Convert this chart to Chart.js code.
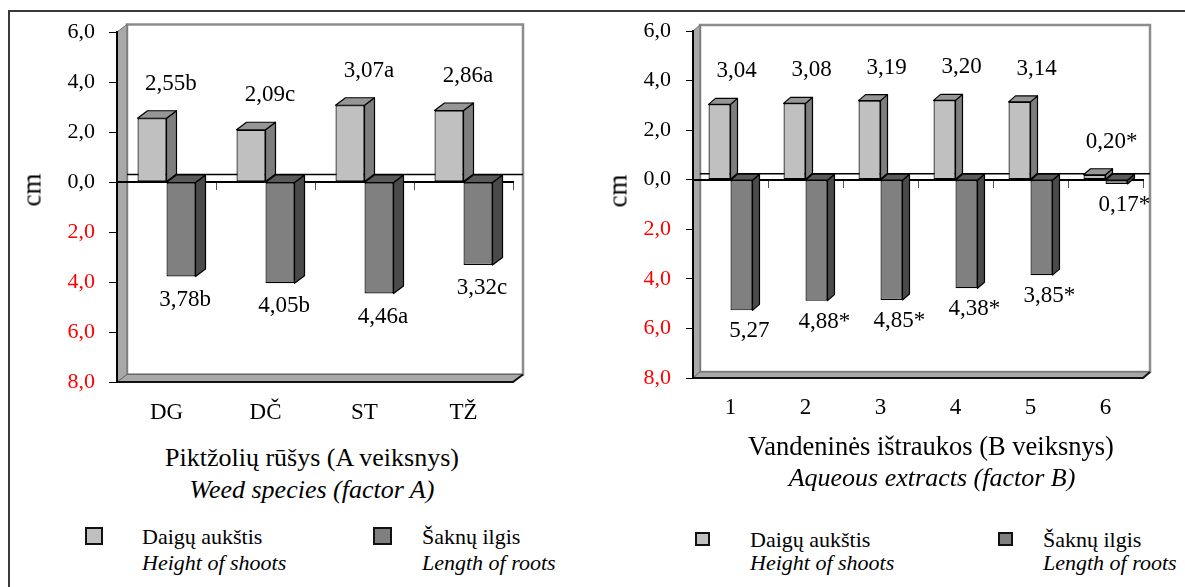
<!DOCTYPE html>
<html>
<head>
<meta charset="utf-8">
<script src="https://cdn.jsdelivr.net/npm/chart.js@4.4.1/dist/chart.umd.min.js"></script>
<style>
  html, body { margin: 0; padding: 0; background: #fff; }
  body { width: 1185px; height: 587px; overflow: hidden; position: relative; font-family: 'Liberation Serif', 'Times New Roman', serif; }
  #frame { position: absolute; left: 8px; top: 10px; width: 1200px; height: 620px; border: 2px solid #3a3a3a; box-sizing: border-box; }
  canvas { position: absolute; top: 0; }
  .t { position: absolute; white-space: nowrap; line-height: 1; color: #000; }
  .c { transform: translate(-50%, -50%); }
  .l { transform: translateY(-50%); }
  .r { transform: translate(-50%, -50%) rotate(-90deg); }
  .i { font-style: italic; }
  .sq { position: absolute; border: 2px solid #111; box-sizing: border-box; }
</style>
</head>
<body>
<div id="frame"></div>
<canvas id="leftChart" width="560" height="440" style="left:0px;width:560px;height:440px"></canvas>
<canvas id="rightChart" width="595" height="440" style="left:590px;width:595px;height:440px"></canvas>

<div class="t r" style="left:32px;top:190px;font-size:27px">cm</div>
<div class="t r" style="left:618px;top:191px;font-size:27px">cm</div>

<div id="leftTitle" class="t c" style="left:312px;top:458px;font-size:26px"></div>
<div id="leftSub" class="t c i" style="left:312px;top:490px;font-size:26px"></div>
<div id="rightTitle" class="t c" style="left:931px;top:446px;font-size:26.5px"></div>
<div id="rightSub" class="t c i" style="left:932px;top:478px;font-size:26px"></div>

<div id="legend"></div>

<script>
// ---------------- data ----------------
const leftCategories = ['DG', 'DČ', 'ST', 'TŽ'];
const leftShoots = [2.55, 2.09, 3.07, 2.86];
const leftRoots = [3.78, 4.05, 4.46, 3.32];
const leftShootMarks = ['b', 'c', 'a', 'a'];
const leftRootMarks = ['b', 'b', 'a', 'c'];

const rightCategories = ['1', '2', '3', '4', '5', '6'];
const rightShoots = [3.04, 3.08, 3.19, 3.20, 3.14, 0.20];
const rightRoots = [5.27, 4.88, 4.85, 4.38, 3.85, 0.17];
const rightShootMarks = ['', '', '', '', '', '*'];
const rightRootMarks = ['', '*', '*', '*', '*', '*'];

const yTickValues = [-8, -6, -4, -2, 0, 2, 4, 6];
const yTickLabels = ['8,0', '6,0', '4,0', '2,0', '0,0', '2,0', '4,0', '6,0'];

const seriesNames = ['Daigų aukštis', 'Šaknų ilgis'];
const seriesNamesEn = ['Height of shoots', 'Length of roots'];

const leftAxisTitle = ['Piktžolių rūšys (A veiksnys)', 'Weed species (factor A)'];
const rightAxisTitle = ['Vandeninės ištraukos (B veiksnys)', 'Aqueous extracts (factor B)'];

// ---------------- styling ----------------
const FONT = "'Liberation Serif', 'Times New Roman', serif";
const COLORS = {
  shootFront: '#c0c0c0', shootTop: '#969696', shootSide: '#7e7e7e',
  rootFront: '#808080', rootTop: '#5a5a5a', rootSide: '#4a4a4a',
  wall: '#a8a8a8', backBorder: '#8c8c8c'
};

function fmt(v) { return v.toFixed(2).replace('.', ','); }

function poly(ctx, pts, fill, stroke, lw) {
  ctx.beginPath();
  ctx.moveTo(pts[0][0], pts[0][1]);
  for (let k = 1; k < pts.length; k++) ctx.lineTo(pts[k][0], pts[k][1]);
  ctx.closePath();
  if (fill) { ctx.fillStyle = fill; ctx.fill(); }
  if (stroke) { ctx.strokeStyle = stroke; ctx.lineWidth = lw || 1; ctx.stroke(); }
}

const threeD = {
  id: 'threeD',
  beforeDraw(chart, args, o) {
    const ctx = chart.ctx, a = chart.chartArea, dx = o.dx, dy = o.dy;
    const w = a.right - a.left, h = a.bottom - a.top;
    ctx.save();
    // back wall
    ctx.fillStyle = '#fff';
    ctx.fillRect(a.left + dx, a.top + dy, w, h);
    ctx.strokeStyle = COLORS.backBorder; ctx.lineWidth = 2.5;
    ctx.strokeRect(a.left + dx, a.top + dy, w, h);
    // side wall
    poly(ctx, [[a.left, a.top], [a.left + dx, a.top + dy], [a.left + dx, a.bottom + dy], [a.left, a.bottom]], COLORS.wall, '#6a6a6a', 1);
    // floor
    poly(ctx, [[a.left, a.bottom], [a.left + dx, a.bottom + dy], [a.right + dx, a.bottom + dy], [a.right, a.bottom]], COLORS.wall, '#6a6a6a', 1);
    ctx.strokeStyle = '#111'; ctx.lineWidth = 2;
    ctx.beginPath(); ctx.moveTo(a.left, a.bottom); ctx.lineTo(a.right, a.bottom); ctx.lineTo(a.right + dx, a.bottom + dy); ctx.stroke();
    // zero line on the back wall
    const y0 = chart.scales.y.getPixelForValue(0) + dy;
    ctx.strokeStyle = '#000'; ctx.lineWidth = 1.5;
    ctx.beginPath(); ctx.moveTo(a.left + dx, y0); ctx.lineTo(a.right + dx, y0); ctx.stroke();
    ctx.restore();
  },
  afterDatasetsDraw(chart, args, o) {
    const ctx = chart.ctx, dx = o.dx, dy = o.dy;
    ctx.save();
    ctx.lineJoin = 'round';
    chart.data.datasets.forEach((ds, di) => {
      const meta = chart.getDatasetMeta(di);
      const topC = di === 0 ? COLORS.shootTop : COLORS.rootTop;
      const sideC = di === 0 ? COLORS.shootSide : COLORS.rootSide;
      meta.data.forEach((bar) => {
        const p = bar.getProps(['x', 'y', 'base', 'width'], true);
        const l = p.x - p.width / 2, r = p.x + p.width / 2;
        const t = Math.min(p.y, p.base), b = Math.max(p.y, p.base);
        poly(ctx, [[r, t], [r + dx, t + dy], [r + dx, b + dy], [r, b]], sideC, '#000', 1.2);
        poly(ctx, [[l, t], [l + dx, t + dy], [r + dx, t + dy], [r, t]], topC, '#000', 1.2);
      });
    });
    // value labels
    ctx.fillStyle = '#000';
    ctx.font = '23px ' + FONT;
    ctx.textAlign = 'center';
    ctx.textBaseline = 'middle';
    const m0 = chart.getDatasetMeta(0), m1 = chart.getDatasetMeta(1);
    m0.data.forEach((bar, i) => {
      const p = bar.getProps(['x', 'y', 'base'], true);
      const t = Math.min(p.y, p.base);
      ctx.fillText(fmt(o.shoots[i]) + o.shootMarks[i], p.x + o.shootLabelDx, t + dy - o.shootLabelGap);
    });
    m1.data.forEach((bar, i) => {
      const p = bar.getProps(['x', 'y', 'base'], true);
      const b = Math.max(p.y, p.base);
      ctx.fillText(fmt(o.roots[i]) + o.rootMarks[i], p.x + o.rootLabelDx, b + o.rootLabelGap);
    });
    ctx.restore();
  }
};

function makeChart(id, cats, shoots, roots, shootMarks, rootMarks, s) {
  return new Chart(document.getElementById(id), {
    type: 'bar',
    data: {
      labels: cats,
      datasets: [
        { label: seriesNames[0], data: shoots, xAxisID: 'x', yAxisID: 'y',
          backgroundColor: COLORS.shootFront, borderColor: '#000', borderWidth: 1.2, borderSkipped: false,
          categoryPercentage: 0.586, barPercentage: 1 },
        { label: seriesNames[1], data: roots.map(v => -v), xAxisID: 'x', yAxisID: 'y',
          backgroundColor: COLORS.rootFront, borderColor: '#000', borderWidth: 1.2, borderSkipped: false,
          categoryPercentage: 0.586, barPercentage: 1 }
      ]
    },
    options: {
      responsive: false,
      animation: false,
      devicePixelRatio: 1,
      layout: { padding: { left: 0, top: s.top, right: s.padRight, bottom: 0 } },
      plugins: {
        legend: { display: false },
        tooltip: { enabled: false },
        threeD: { dx: s.dx, dy: s.dy, shoots, roots, shootMarks, rootMarks,
          shootLabelDx: s.shootLabelDx, shootLabelGap: s.shootLabelGap,
          rootLabelDx: s.rootLabelDx, rootLabelGap: s.rootLabelGap }
      },
      scales: {
        x: {
          type: 'category', position: 'bottom',
          grid: { display: false, drawTicks: false },
          border: { display: false },
          ticks: { color: '#000', font: { family: FONT, size: 23 }, padding: s.xPad, maxRotation: 0, autoSkip: false },
          afterFit: (sc) => { sc.height = s.xHeight; }
        },
        x0: {
          type: 'category', position: { y: 0 }, offset: true,
          grid: { offset: true, drawOnChartArea: false, drawTicks: true, tickLength: s.xTick, color: '#555', lineWidth: 1 },
          border: { display: true, color: '#000', width: 2 },
          ticks: { display: false }
        },
        y: {
          type: 'linear', position: 'left', min: -8, max: 6,
          afterBuildTicks: (sc) => { sc.ticks = yTickValues.map(v => ({ value: v })); },
          ticks: {
            callback: (v, i) => yTickLabels[i],
            color: (c) => (c.tick && c.tick.value < 0 ? '#ff0000' : '#000'),
            font: { family: FONT, size: 22 },
            padding: s.yPad
          },
          grid: { display: true, drawOnChartArea: false, drawTicks: true, tickLength: s.yTick, color: '#000', lineWidth: 1 },
          border: { display: true, color: '#000', width: 2 },
          afterFit: (sc) => { sc.width = s.yWidth; }
        }
      }
    },
    plugins: [threeD]
  });
}

makeChart('leftChart', leftCategories, leftShoots, leftRoots, leftShootMarks, leftRootMarks, {
  top: 32, padRight: 47, yWidth: 117, xHeight: 58, xPad: 17, xTick: 7, yTick: 8, yPad: 14,
  dx: 10, dy: -7.5, shootLabelDx: 19, shootLabelGap: 27, rootLabelDx: 4, rootLabelGap: 23
});
makeChart('rightChart', rightCategories, rightShoots, rightRoots, rightShootMarks, rightRootMarks, {
  top: 31, padRight: 42, yWidth: 103, xHeight: 62, xPad: 16, xTick: 7, yTick: 7, yPad: 15,
  dx: 7, dy: -6, shootLabelDx: 17, shootLabelGap: 27, rootLabelDx: 8, rootLabelGap: 21
});

// axis titles
document.getElementById('leftTitle').textContent = leftAxisTitle[0];
document.getElementById('leftSub').textContent = leftAxisTitle[1];
document.getElementById('rightTitle').textContent = rightAxisTitle[0];
document.getElementById('rightSub').textContent = rightAxisTitle[1];

// legends
const legendSpecs = [
  { sq: [85, 527, 18, 18], text: [142, 537, 563] , color: COLORS.shootFront, s: 0 },
  { sq: [373, 527, 19, 18], text: [422, 537, 563], color: COLORS.rootFront, s: 1 },
  { sq: [695, 532, 15, 14], text: [750, 540, 563], color: COLORS.shootFront, s: 0 },
  { sq: [998, 532, 15, 14], text: [1043, 540, 563], color: COLORS.rootFront, s: 1 }
];
const lg = document.getElementById('legend');
legendSpecs.forEach(L => {
  const sq = document.createElement('div');
  sq.className = 'sq';
  sq.style.cssText = `left:${L.sq[0]}px;top:${L.sq[1]}px;width:${L.sq[2]}px;height:${L.sq[3]}px;background:${L.color}`;
  lg.appendChild(sq);
  const a = document.createElement('div');
  a.className = 't l';
  a.style.cssText = `left:${L.text[0]}px;top:${L.text[1]}px;font-size:22px`;
  a.textContent = seriesNames[L.s];
  lg.appendChild(a);
  const b = document.createElement('div');
  b.className = 't l i';
  b.style.cssText = `left:${L.text[0]}px;top:${L.text[2]}px;font-size:22px`;
  b.textContent = seriesNamesEn[L.s];
  lg.appendChild(b);
});
</script>
</body>
</html>
